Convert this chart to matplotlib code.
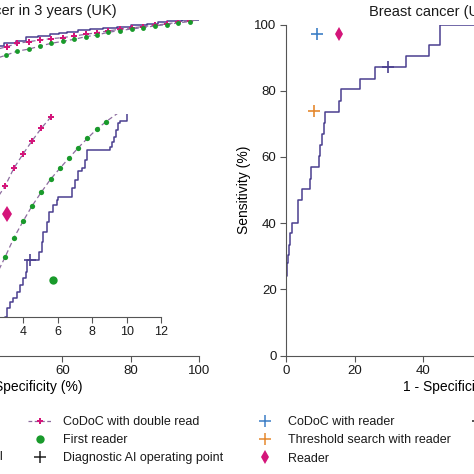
import numpy as np
import matplotlib.pyplot as plt
from matplotlib.lines import Line2D

plt.rcParams['font.family'] = ['Liberation Sans', 'DejaVu Sans']
plt.rcParams['text.color'] = '#1a1a1a'

# ---- UK panel (main axes) ----
uk_ai_fpr = [40, 43, 46.5, 49.5, 53, 56.4, 59, 61.4, 64.5, 68.1, 72, 76, 80, 84.7, 88, 90.6, 95, 98.5, 100]
uk_ai_tpr = [92.2, 92.9, 93.6, 94.8, 95.2, 95.7, 96.0, 96.4, 96.8, 97.2, 97.5, 97.9, 98.3, 98.7, 99.2, 99.6, 99.8, 100, 100]

uk_dbl_fpr = [40, 43.8, 46.9, 50.3, 53.5, 56.7, 60.1, 63.4, 66.9, 70.2, 73.4, 76.8, 80.3, 83.6, 87.1, 90.5, 93.9, 97.3, 99.5]
uk_dbl_tpr = [90.9, 91.9, 92.9, 93.4, 93.9, 94.3, 94.6, 95.1, 95.6, 96.1, 96.6, 97.1, 97.5, 97.9, 98.3, 98.7, 99.2, 99.6, 100]

uk_first_fpr = [40, 43.6, 46.9, 50.3, 53.5, 56.7, 60.1, 63.4, 66.9, 70.2, 73.4, 76.8, 80.3, 83.6, 87.1, 90.5, 93.9, 97.3, 99.5]
uk_first_tpr = [88.2, 89.4, 90.6, 91.2, 92.1, 92.9, 93.5, 94.1, 94.9, 95.4, 96.2, 96.7, 97.2, 97.6, 98.1, 98.5, 99.0, 99.4, 100]

# ---- UK inset (zoom on low 1 - specificity) ----
in_ai_fpr = [2.9, 2.94, 3.03, 3.23, 3.42, 3.62, 3.81, 4.0, 4.16, 4.22, 4.93, 5.07, 5.16, 5.36, 5.51, 5.74,
             5.94, 6.03, 6.83, 7.01, 7.18, 7.41, 7.59, 7.72, 9.04, 9.16, 9.27, 9.39, 9.52, 9.62, 10.03, 10.16]
in_ai_tpr = [49.0, 50.0, 51.6, 52.7, 53.5, 54.6, 55.8, 57.1, 58.3, 60.5, 62.0, 63.8, 65.7, 67.5, 69.4, 70.6,
             71.5, 72.1, 73.7, 75.2, 76.8, 77.4, 78.9, 80.8, 81.4, 82.3, 83.2, 84.4, 85.7, 86.2, 88.5, 88.5]

in_dbl_fpr = [2.4, 2.94, 3.45, 4.0, 4.52, 5.05, 5.59, 5.8]
in_dbl_tpr = [71.5, 74.1, 77.4, 80.1, 82.5, 84.8, 86.8, 88.2]

in_first_fpr = [2.4, 2.94, 3.46, 4.0, 4.52, 5.05, 5.59, 6.13, 6.66, 7.2, 7.72, 8.27, 8.81, 9.6]
in_first_tpr = [57.5, 61.0, 64.6, 67.7, 70.5, 73.0, 75.4, 77.4, 79.3, 81.2, 82.9, 84.6, 86.0, 87.8]

in_ai_point = (4.39, 60.5)
in_first_reader = (5.71, 56.8)
in_double_reader = (3.03, 68.9)

# ---- USA panel ----
us_ai_fpr = [0, 0, 0.3, 0.6, 0.9, 1.2, 1.6, 3.4, 3.5, 4.6, 6.8, 7.3, 9.6, 9.8, 10.3, 11.0, 11.4,
             15.4, 15.9, 21.4, 25.9, 34.9, 41.6, 44.9, 100]
us_ai_tpr = [0, 24, 28, 30.5, 33.5, 37.1, 40.1, 43.8, 46.9, 50.4, 53.5, 57.0, 60.2, 63.5, 66.8, 70.2, 73.6,
             76.8, 80.4, 83.5, 87.1, 90.4, 93.9, 100, 100]
us_ai_point = (29.8, 87.1)
us_codoc = (8.9, 97.0)
us_threshold = (8.2, 73.8)
us_reader = (15.5, 97.0)

purple = '#4a3f8f'
pink = '#d4157a'
green = '#199a2b'
dash = '#8d6c9f'
blue = '#3d7fc6'
orange = '#e5892f'
spine = '#555555'

W = H = 474.0


def box(x0, x1, ytop, ybot):
    return [x0 / W, 1 - ybot / H, (x1 - x0) / W, (ybot - ytop) / H]


def style(ax):
    for s in ['top', 'right']:
        ax.spines[s].set_visible(False)
    for s in ['left', 'bottom']:
        ax.spines[s].set_color(spine)
        ax.spines[s].set_linewidth(0.8)
    ax.tick_params(colors=spine, labelcolor='#1a1a1a', length=4, width=0.8, labelsize=9.5, pad=3)


fig = plt.figure(figsize=(4.74, 4.74), dpi=100)

# left main axes
ax1 = fig.add_axes(box(-143.2, 199.3, 19.5, 355.5))
style(ax1)
ax1.plot(uk_ai_fpr, uk_ai_tpr, color=purple, lw=1.1, drawstyle='steps-post')
ax1.plot(uk_dbl_fpr, uk_dbl_tpr, color=dash, lw=0.9, ls=(0, (4, 2.5)))
ax1.plot(uk_dbl_fpr[1:-1], uk_dbl_tpr[1:-1], ls='none', marker='P', ms=4.5, color=pink, mew=0)
ax1.plot(uk_first_fpr, uk_first_tpr, color=dash, lw=0.9, ls=(0, (4, 2.5)))
ax1.plot(uk_first_fpr[1:-1], uk_first_tpr[1:-1], ls='none', marker='o', ms=3.5, color=green, mew=0)
ax1.set_xlim(0, 100)
ax1.set_ylim(0, 100)
ax1.set_xticks([60, 80, 100])
ax1.set_yticks([])
ax1.spines['left'].set_visible(False)
ax1.set_xlabel('1 - Specificity (%)', fontsize=10)
ax1.xaxis.set_label_coords(0.5, -0.073)

# inset
axi = fig.add_axes(box(-45.5, 161, 114.0, 316.7))
style(axi)
axi.patch.set_alpha(0)
axi.spines['left'].set_visible(False)
axi.plot(in_ai_fpr, in_ai_tpr, color=purple, lw=1.1, drawstyle='steps-post')
axi.plot(in_dbl_fpr, in_dbl_tpr, color=dash, lw=0.9, ls=(0, (4, 2.5)))
axi.plot(in_dbl_fpr[1:-1], in_dbl_tpr[1:-1], ls='none', marker='P', ms=4.5, color=pink, mew=0)
axi.plot(in_first_fpr, in_first_tpr, color=dash, lw=0.9, ls=(0, (4, 2.5)))
axi.plot(in_first_fpr[1:-1], in_first_tpr[1:-1], ls='none', marker='o', ms=3.8, color=green, mew=0)
axi.plot(*in_ai_point, marker='+', ms=9, mew=1.2, color=purple)
axi.plot(*in_first_reader, marker='o', ms=6, color=green, mew=0)
axi.plot(*in_double_reader, marker='d', ms=8, color=pink, mew=0)
axi.set_xlim(0, 12)
axi.set_ylim(50, 87.4)
axi.set_xticks([4, 6, 8, 10, 12])
axi.set_yticks([])
axi.tick_params(labelsize=9)

# right axes
ax2 = fig.add_axes(box(286.3, 628.8, 24.5, 355.7))
style(ax2)
ax2.plot(us_ai_fpr, us_ai_tpr, color=purple, lw=1.1, drawstyle='steps-post')
ax2.plot(*us_ai_point, marker='+', ms=9, mew=1.2, color=purple)
ax2.plot(*us_codoc, marker='+', ms=8.5, mew=1.2, color=blue)
ax2.plot(*us_threshold, marker='+', ms=8.5, mew=1.2, color=orange)
ax2.plot(*us_reader, marker='d', ms=7, color=pink, mew=0)
ax2.set_xlim(0, 100)
ax2.set_ylim(0, 100)
ax2.set_xticks([0, 20, 40])
ax2.set_yticks(np.arange(0, 101, 20))
ax2.set_xlabel('1 - Specificity (%)', fontsize=10)
ax2.xaxis.set_label_coords(0.5, -0.074)
ax2.set_ylabel('Sensitivity (%)', fontsize=10)
ax2.yaxis.set_label_coords(-0.104, 0.5)

# titles
fig.text(117 / W, 1 - 11 / H, 'Breast cancer in 3 years (UK)', ha='right', va='center', fontsize=10.5)
fig.text(369 / W, 1 - 12 / H, 'Breast cancer (USA)', ha='left', va='center', fontsize=10.5)

# legends
leg_kw = dict(loc='upper left', frameon=False, borderpad=0, borderaxespad=0,
              handlelength=1.87, handletextpad=0.93, labelspacing=0.5, fontsize=9)
top = 1 - 416 / H

h_mid = [Line2D([], [], color=dash, lw=0.9, ls=(0, (3, 2)), marker='P', ms=4.5, mfc=pink, mec=pink, mew=0),
         Line2D([], [], ls='none', marker='o', ms=6, color=green, mew=0),
         Line2D([], [], ls='none', marker='+', ms=9, mew=1.1, color='#222222')]
l_mid = ['CoDoC with double read', 'First reader', 'Diagnostic AI operating point']
fig.legend(h_mid, l_mid, bbox_to_anchor=(28.3 / W, top), **leg_kw)

h_right = [Line2D([], [], ls='none', marker='+', ms=9, mew=1.1, color=blue),
           Line2D([], [], ls='none', marker='+', ms=9, mew=1.1, color=orange),
           Line2D([], [], ls='none', marker='d', ms=7, color=pink, mew=0)]
l_right = ['CoDoC with reader', 'Threshold search with reader', 'Reader']
fig.legend(h_right, l_right, bbox_to_anchor=(253.3 / W, top), **leg_kw)

h_far = [Line2D([], [], ls='none', marker='+', ms=9, mew=1.1, color='#222222')]
fig.legend(h_far, ['Diagnostic AI operating point'], bbox_to_anchor=(466.3 / W, top), **leg_kw)

fig.text(3 / W, 1 - 457 / H, 'Diagnostic AI model', ha='right', va='center', fontsize=9)

fig.savefig('out.png', dpi=100)
